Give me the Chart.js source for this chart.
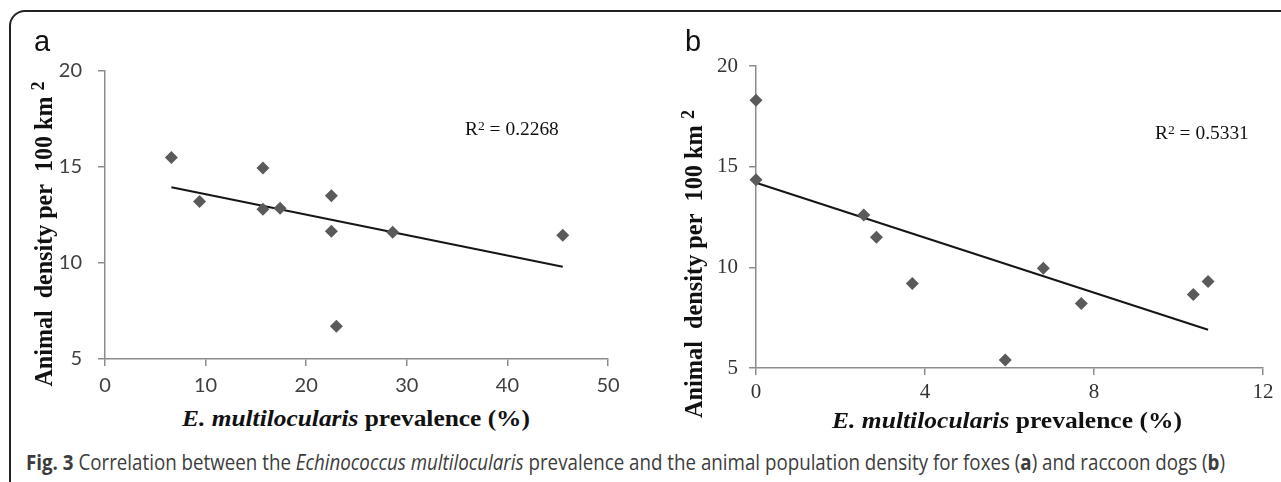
<!DOCTYPE html>
<html>
<head>
<meta charset="utf-8">
<script src="https://cdn.jsdelivr.net/npm/chart.js@4.4.1/dist/chart.umd.min.js"></script>
<style>
  html, body { margin: 0; padding: 0; background: #fff; width: 1281px; height: 482px; overflow: hidden; }
  .frame { position: absolute; left: 9px; top: 10px; width: 1320px; height: 540px; border: 2px solid #222; border-radius: 16px; }
  canvas { position: absolute; top: 0; }
  .txt { position: absolute; white-space: nowrap; line-height: 1; }
  .serif { font-family: "Liberation Serif", "Times New Roman", serif; color: #111; }
  .letter { font-family: "Liberation Sans", Arial, sans-serif; font-size: 29px; color: #111; }
  .ytitle { font-weight: bold; font-size: 25px; transform-origin: center; }
  .xtitle { font-weight: bold; font-size: 24px; transform-origin: center; }
  .r2 { font-size: 19px; transform-origin: left center; }
  .caption { font-family: "Open Sans", sans-serif; font-size: 21px; color: #3c3c3c; transform-origin: left center; }
</style>
</head>
<body>
<div class="frame"></div>
<canvas id="chartA" width="640" height="400" style="left:0"></canvas>
<canvas id="chartB" width="641" height="410" style="left:640px"></canvas>

<div class="txt letter" style="left:34px; top:27px">a</div>
<div class="txt letter" style="left:685px; top:27px">b</div>

<div class="txt serif ytitle" style="left:43px; top:234px" data-w="305" data-pre="translate(-50%,-50%) rotate(-90deg)">Animal&nbsp; density per&nbsp; 100 km <span style="position:relative; top:-0.45em; font-size:0.75em">2</span></div>
<div class="txt serif ytitle" style="left:693px; top:264px" data-w="308" data-pre="translate(-50%,-50%) rotate(-90deg)">Animal&nbsp; density per&nbsp; 100 km <span style="position:relative; top:-0.45em; font-size:0.75em">2</span></div>

<div class="txt serif xtitle" style="left:356px; top:406px" data-w="348" data-pre="translateX(-50%)"><i>E. multilocularis</i> prevalence (%)</div>
<div class="txt serif xtitle" style="left:1007px; top:408px" data-w="350" data-pre="translateX(-50%)"><i>E. multilocularis</i> prevalence (%)</div>

<div class="txt serif r2" style="left:465px; top:119px" data-w="94" data-pre="">R<span style="position:relative; top:-0.4em; font-size:0.7em">2</span> = 0.2268</div>
<div class="txt serif r2" style="left:1155px; top:123px" data-w="94" data-pre="">R<span style="position:relative; top:-0.4em; font-size:0.7em">2</span> = 0.5331</div>

<div class="txt caption" style="left:26px; top:452px" data-w="1199" data-pre=""><b>Fig. 3</b> Correlation between the <i>Echinococcus multilocularis</i> prevalence and the animal population density for foxes (<b>a</b>) and raccoon dogs (<b>b</b>)</div>

<script>
// (a) foxes
const foxPrevalence = [6.6, 9.4, 15.7, 15.7, 17.4, 22.5, 22.5, 23.0, 28.6, 45.5];
const foxDensity = [15.5, 13.2, 14.95, 12.8, 12.85, 13.5, 11.65, 6.7, 11.6, 11.45];
const foxTrendX = [6.6, 45.5];
const foxTrendY = [13.95, 9.8];

// (b) raccoon dogs
const raccoonPrevalence = [0, 0, 2.55, 2.85, 3.7, 5.9, 6.8, 7.7, 10.35, 10.7];
const raccoonDensity = [18.3, 14.35, 12.6, 11.5, 9.2, 5.4, 9.95, 8.2, 8.65, 9.3];
const raccoonTrendX = [0, 10.7];
const raccoonTrendY = [14.2, 6.9];

const yTicks = [5, 10, 15, 20];
const xTicksA = [0, 10, 20, 30, 40, 50];
const xTicksB = [0, 4, 8, 12];

const axisGray = '#8c8c8c';

function pts(xs, ys) {
  return xs.map((x, i) => ({ x: x, y: ys[i] }));
}

function scatterChart(id, xs, ys, tx, ty, xTicks, tickFont, tickColor, pad, yWidth, xHeight, yPad, xPad) {
  return new Chart(document.getElementById(id), {
    type: 'scatter',
    data: {
      datasets: [{
        data: pts(xs, ys),
        pointStyle: 'rectRot',
        pointRadius: 6.5,
        pointHoverRadius: 6.5,
        backgroundColor: '#5a5a5a',
        borderWidth: 0,
        clip: false
      }, {
        data: pts(tx, ty),
        showLine: true,
        borderColor: '#151515',
        borderWidth: 2,
        pointRadius: 0,
        fill: false,
        clip: false
      }]
    },
    options: {
      responsive: false,
      animation: false,
      devicePixelRatio: 1,
      layout: { padding: pad },
      plugins: { legend: { display: false }, tooltip: { enabled: false } },
      scales: {
        x: {
          type: 'linear',
          min: xTicks[0],
          max: xTicks[xTicks.length - 1],
          afterBuildTicks: s => { s.ticks = xTicks.map(v => ({ value: v })); },
          ticks: { color: tickColor, font: tickFont, padding: xPad },
          grid: { drawOnChartArea: false, tickLength: 7, color: axisGray, lineWidth: 1.5 },
          border: { color: axisGray, width: 1.5 },
          afterFit: s => { s.height = xHeight; }
        },
        y: {
          type: 'linear',
          min: yTicks[0],
          max: yTicks[yTicks.length - 1],
          afterBuildTicks: s => { s.ticks = yTicks.map(v => ({ value: v })); },
          ticks: { color: tickColor, font: tickFont, padding: yPad },
          grid: { drawOnChartArea: false, tickLength: 7, color: axisGray, lineWidth: 1.5 },
          border: { color: axisGray, width: 1.5 },
          afterFit: s => { s.width = yWidth; }
        }
      }
    }
  });
}

scatterChart('chartA', foxPrevalence, foxDensity, foxTrendX, foxTrendY, xTicksA,
  { family: 'Lato', size: 20 }, '#404040',
  { top: 71, right: 32, left: 0, bottom: 0 }, 105, 41, 16, 8);

scatterChart('chartB', raccoonPrevalence, raccoonDensity, raccoonTrendX, raccoonTrendY, xTicksB,
  { family: 'Liberation Serif', size: 21 }, '#333',
  { top: 66, right: 18, left: 0, bottom: 0 }, 116, 42, 11, 5);

// squeeze the text blocks to the widths seen in the figure
document.querySelectorAll('[data-w]').forEach(el => {
  const s = parseFloat(el.dataset.w) / el.offsetWidth;
  el.style.transform = (el.dataset.pre + ' scaleX(' + s + ')').trim();
});
</script>
</body>
</html>
